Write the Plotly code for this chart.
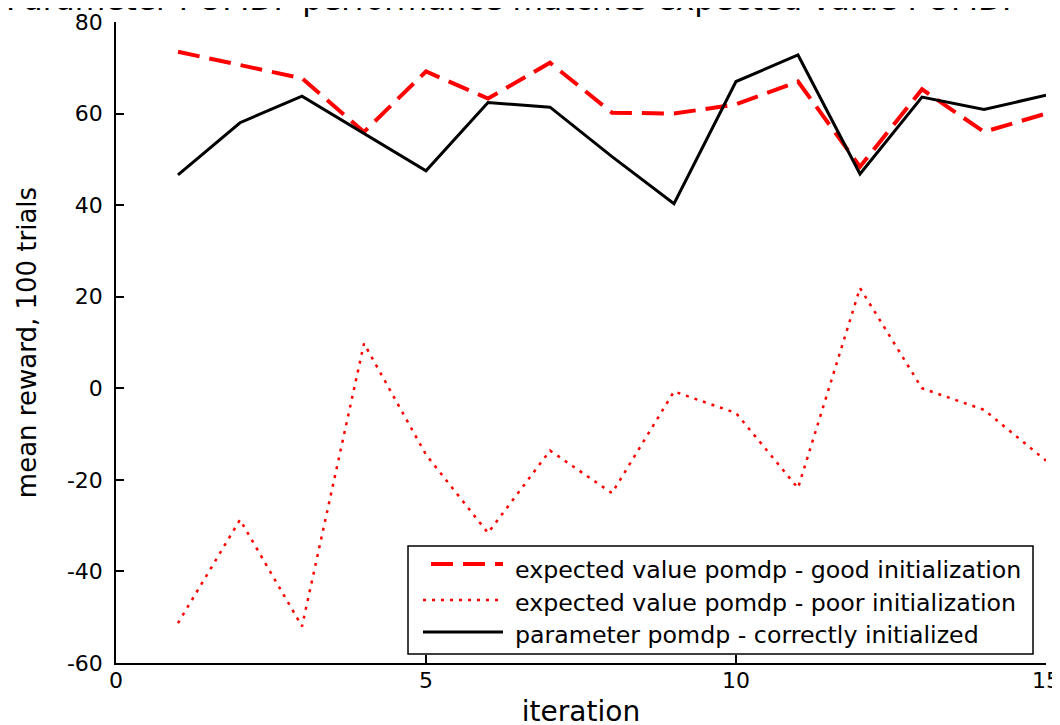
import plotly.graph_objects as go

iterations = list(range(1, 16))
good_init = [73.5, 70.5, 67.7, 56, 69.2, 63.3, 71.1, 60.2, 60.0, 62.0, 67.0, 48.4, 65.3, 56.0, 60.0]
poor_init = [-51.3, -28.7, -52.0, 9.8, -14.5, -31.6, -13.6, -22.9, -0.7, -5.4, -21.8, 21.9, 0.0, -4.7, -15.8]
param_pomdp = [46.6, 58.0, 63.8, 55.7, 47.5, 62.4, 61.4, 50.6, 40.3, 67.0, 72.8, 46.8, 63.6, 60.9, 64.0]

names = [
    "expected value pomdp - good initialization",
    "expected value pomdp - poor initialization",
    "parameter pomdp - correctly initialized",
]
x_ticks = [0, 5, 10, 15]
x_tick_labels = ["0", "5", "10", "15"]
y_ticks = [-60, -40, -20, 0, 20, 40, 60, 80]
y_tick_labels = ["-60", "-40", "-20", "0", "20", "40", "60", "80"]
title_text = "Parameter POMDP performance matches expected value POMDP"

FONT = "DejaVu Sans, Liberation Sans, sans-serif"
W, H = 1060, 725
OFF = 8  # page body margin: figure is drawn 8px right/down in the window
# plot area wanted on screen: x 116..1046, y 22..663
ML, MT = 116 - OFF, 22 - OFF
MR, MB = W - (1046 - OFF), H - (663 - OFF)
PW, PH = W - ML - MR, H - MT - MB


def px_x(p):
    """screen pixel x -> paper fraction"""
    return (p - OFF - ML) / PW


def px_y(p):
    """screen pixel y -> paper fraction"""
    return (H - MB - (p - OFF)) / PH


styles = [
    dict(color="#ff0000", width=4, dash="22px,10px"),
    dict(color="#ff0000", width=2.5, dash="3px,6px"),
    dict(color="#000000", width=3),
]

fig = go.Figure()
for ys, nm, st in zip([good_init, poor_init, param_pomdp], names, styles):
    fig.add_trace(go.Scatter(x=iterations, y=ys, mode="lines", name=nm,
                             line=st, showlegend=False))

axis_common = dict(showgrid=False, zeroline=False, showline=True, linecolor="black",
                   linewidth=1.5, ticks="inside", ticklen=8, tickwidth=1.5,
                   tickcolor="black", mirror=False, automargin=False,
                   tickfont=dict(family=FONT, size=22, color="black"))

fig.update_xaxes(range=[0, 15], tickvals=x_ticks, ticktext=x_tick_labels,
                 ticklabelstandoff=-3,
                 title=dict(text="iteration", font=dict(family=FONT, size=28, color="black"),
                            standoff=9),
                 **axis_common)
fig.update_yaxes(range=[-60, 80], tickvals=y_ticks, ticktext=y_tick_labels,
                 ticklabelstandoff=7,
                 title=dict(text="mean reward, 100 trials",
                            font=dict(family=FONT, size=26, color="black"), standoff=23),
                 **axis_common)

# title (clipped at top of the picture, as in the reference)
fig.add_annotation(text=title_text, xref="paper", yref="paper",
                   x=px_x(4), y=px_y(19), xanchor="left", yanchor="bottom",
                   showarrow=False, font=dict(family=FONT, size=31.3, color="black"))

# legend box drawn in the MATLAB style
fig.add_shape(type="rect", xref="paper", yref="paper",
              x0=px_x(408), x1=px_x(1033), y0=px_y(654), y1=px_y(546),
              line=dict(color="black", width=1.5), fillcolor="white", layer="above")
sample_rows = [(431, 503, 564), (423, 500, 600), (423, 503, 632)]
text_rows = [570, 603, 634.5]
for (xa, xb, yy), ty, nm, st in zip(sample_rows, text_rows, names, styles):
    fig.add_shape(type="line", xref="paper", yref="paper",
                  x0=px_x(xa), x1=px_x(xb), y0=px_y(yy), y1=px_y(yy),
                  line=st, layer="above")
    fig.add_annotation(text=nm, xref="paper", yref="paper", x=px_x(513), y=px_y(ty),
                       xanchor="left", yanchor="middle", showarrow=False,
                       font=dict(family=FONT, size=23.7, color="black"))

fig.update_layout(
    width=W, height=H,
    margin=dict(l=ML, r=MR, t=MT, b=MB),
    paper_bgcolor="white", plot_bgcolor="white",
    showlegend=False,
)

fig.write_html("out.html")
